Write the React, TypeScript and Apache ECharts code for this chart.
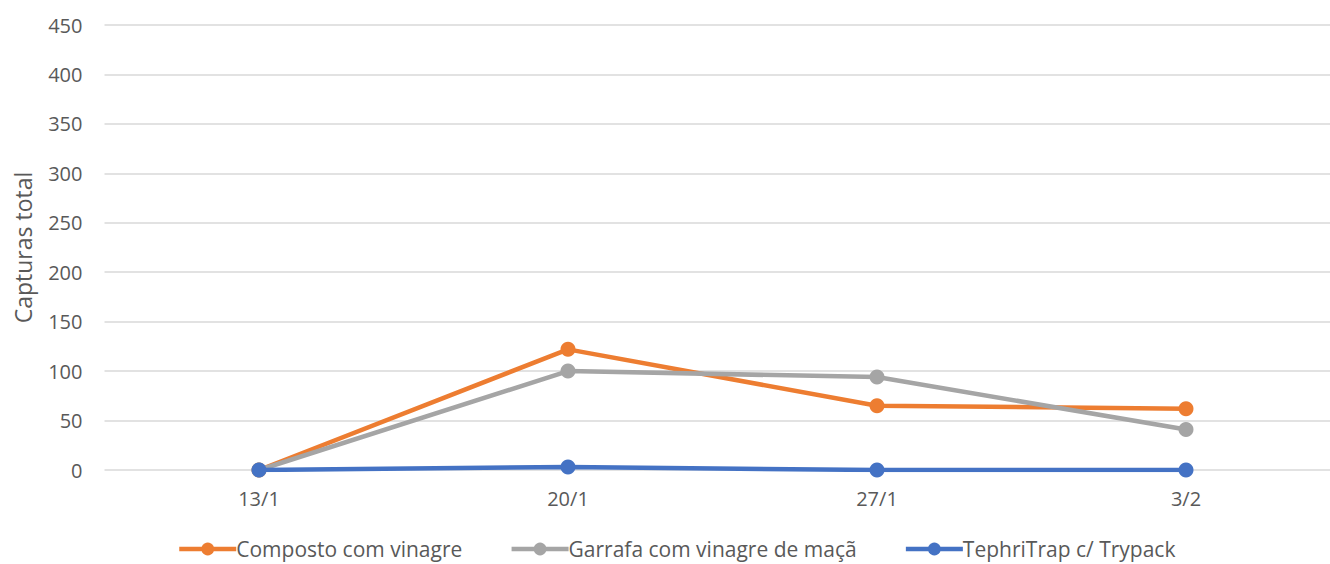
import React, { useEffect, useRef } from "react";
import * as echarts from "echarts";

const categories = ["13/1", "20/1", "27/1", "3/2"];
const composto = [0, 122, 65, 62];
const garrafa = [0, 100, 94, 41];
const tephri = [0, 3, 0, 0];
const seriesNames = ["Composto com vinagre", "Garrafa com vinagre de maçã", "TephriTrap c/ Trypack"];
const colors = ["#ED7D31", "#A5A5A5", "#4472C4"];

const FONT = "'Open Sans', 'Noto Sans', sans-serif";

export default function App() {
  const ref = useRef<HTMLDivElement>(null);
  useEffect(() => {
    if (!ref.current) return;
    const chart = echarts.init(ref.current, null, { renderer: "svg" });
    const data = [composto, garrafa, tephri];
    chart.setOption({
      animation: false,
      backgroundColor: "#ffffff",
      textStyle: { fontFamily: FONT },
      grid: {
        left: 104.5,
        width: 1236,
        top: 25,
        height: 445,
        containLabel: false,
        outerBoundsMode: "none",
      },
      legend: {
        top: 538,
        left: 177,
        padding: 0,
        itemWidth: 57,
        itemHeight: 16,
        itemGap: 47,
        lineStyle: { width: 4.5 },
        textStyle: {
          fontSize: 21,
          lineHeight: 22,
          color: "#595959",
          fontFamily: FONT,
          padding: [0, 0, 0, -5],
        },
        data: seriesNames,
      },
      xAxis: {
        type: "category",
        data: categories,
        boundaryGap: true,
        axisLine: { show: false },
        axisTick: { show: false },
        axisLabel: { fontSize: 20, color: "#595959", margin: 18, fontFamily: FONT },
      },
      yAxis: {
        type: "value",
        min: 0,
        max: 450,
        interval: 50,
        name: "Capturas total",
        nameLocation: "middle",
        nameGap: 70,
        nameTextStyle: { fontSize: 23, color: "#595959", fontFamily: FONT },
        axisLine: { show: false },
        axisTick: { show: false },
        axisLabel: { fontSize: 20, color: "#595959", margin: 22, fontFamily: FONT },
        splitLine: { lineStyle: { color: "#d9d9d9", width: 1.5 } },
      },
      series: seriesNames.map((n, i) => ({
        name: n,
        type: "line",
        data: data[i],
        symbol: "circle",
        symbolSize: 15,
        color: colors[i],
        lineStyle: { width: 4.5, color: colors[i] },
        itemStyle: { color: colors[i] },
        z: 2 + i,
      })),
    });
    return () => chart.dispose();
  }, []);
  return (
    <div
      ref={ref}
      style={{ position: "absolute", left: 0, top: 0, width: 1330, height: 564 }}
    />
  );
}
